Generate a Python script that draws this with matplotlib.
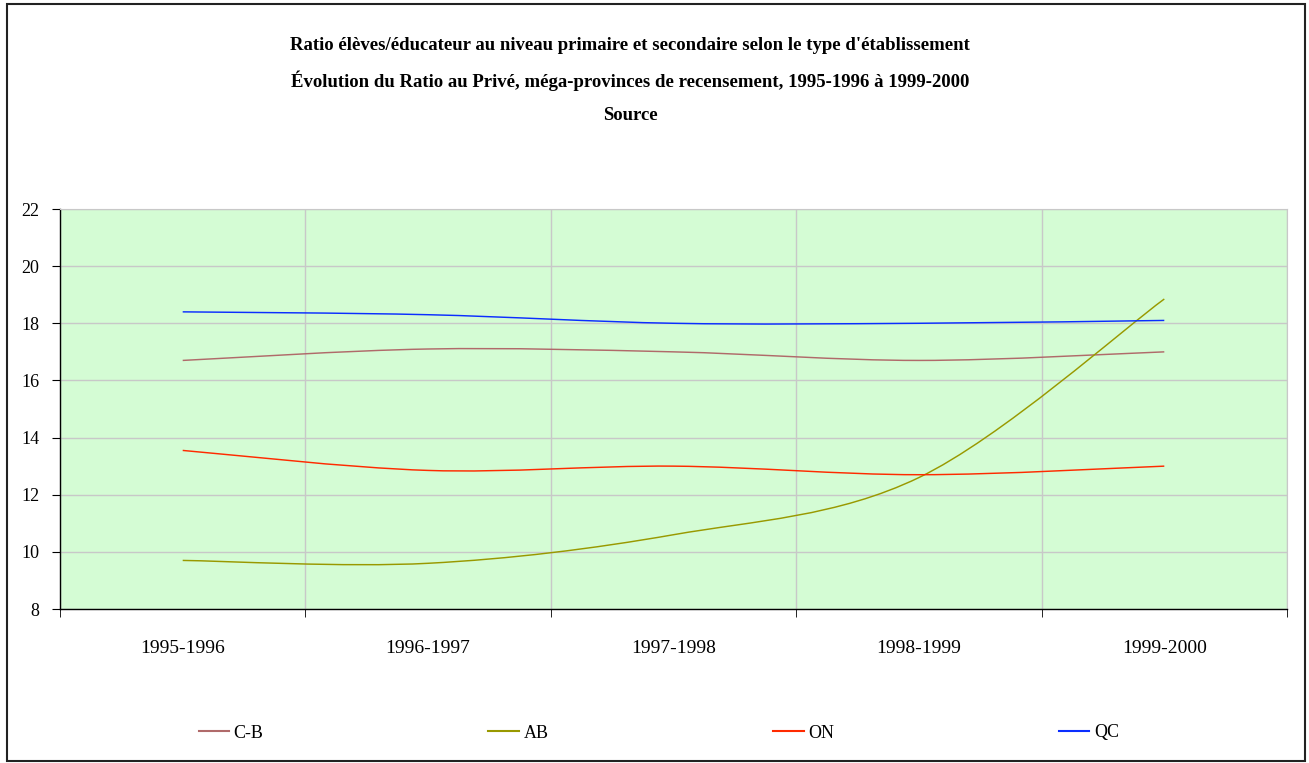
import matplotlib
matplotlib.use("Agg")
import matplotlib.pyplot as plt
import numpy as np
from matplotlib.path import Path
from matplotlib.patches import PathPatch, Rectangle
from matplotlib.lines import Line2D

# ---- data ----
categories = ["1995-1996", "1996-1997", "1997-1998", "1998-1999", "1999-2000"]
series_names = ["C-B", "AB", "ON", "QC"]
cb_values = [16.7, 17.1, 17.0, 16.7, 17.0]
ab_values = [9.7, 9.6, 10.6, 12.6, 18.85]
on_values = [13.55, 12.85, 13.0, 12.7, 13.0]
qc_values = [18.4, 18.3, 18.0, 18.0, 18.1]
series_colors = ["#B06A6A", "#999900", "#FF2A00", "#0A2EFF"]
title_lines = [
    "Ratio élèves/éducateur au niveau primaire et secondaire selon le type d'établissement",
    "Évolution du Ratio au Privé, méga-provinces de recensement, 1995-1996 à 1999-2000",
    "Source",
]
y_ticks = [8, 10, 12, 14, 16, 18, 20, 22]

plt.rcParams['font.family'] = ['Liberation Serif', 'DejaVu Serif']

W, H = 1309, 763
fig = plt.figure(figsize=(W / 100, H / 100), dpi=100)
ax = fig.add_axes([60 / W, 1 - 609 / H, (1287 - 60) / W, (609 - 209) / H])
ax.set_facecolor("#D4FCD4")


def smooth_path(xs, ys):
    xs = np.asarray(xs, float)
    ys = np.asarray(ys, float)
    n = len(xs)
    verts = [(xs[0], ys[0])]
    codes = [Path.MOVETO]
    for i in range(n - 1):
        im1 = max(i - 1, 0)
        ip2 = min(i + 2, n - 1)
        c1 = (xs[i] + (xs[i + 1] - xs[im1]) / 6, ys[i] + (ys[i + 1] - ys[im1]) / 6)
        c2 = (xs[i + 1] - (xs[ip2] - xs[i]) / 6, ys[i + 1] - (ys[ip2] - ys[i]) / 6)
        verts += [c1, c2, (xs[i + 1], ys[i + 1])]
        codes += [Path.CURVE4, Path.CURVE4, Path.CURVE4]
    return Path(verts, codes)


x = np.arange(len(categories))
all_values = [cb_values, ab_values, on_values, qc_values]
handles = []
for name, vals, col in zip(series_names, all_values, series_colors):
    p = smooth_path(x, vals)
    ax.add_patch(PathPatch(p, fill=False, edgecolor=col, lw=1.05, zorder=3))
    handles.append(Line2D([], [], color=col, lw=1.5, label=name))

ax.set_xlim(-0.5, len(categories) - 0.5)
ax.set_ylim(8, 22)
ax.set_yticks(y_ticks)
ax.set_xticks(x)
ax.set_xticklabels(categories, fontsize=14)
ax.set_xticks(np.arange(-0.5, len(categories), 1.0), minor=True)
ax.tick_params(axis='x', which='major', length=0, pad=22)
ax.tick_params(axis='x', which='minor', length=6, direction='out', color='black')
ax.tick_params(axis='y', which='major', length=6, direction='out', pad=9, labelsize=13)

ax.grid(True, which='major', axis='y', color="#C8C8C8", lw=1)
ax.grid(True, which='minor', axis='x', color="#C8C8C8", lw=1)
ax.set_axisbelow(True)
for s in ["top", "right"]:
    ax.spines[s].set_color("#C8C8C8")
for s in ["left", "bottom"]:
    ax.spines[s].set_color("black")
    ax.spines[s].set_linewidth(1.0)

title_y = [45, 81, 116]
for t, yy in zip(title_lines, title_y):
    fig.text(630 / W, 1 - yy / H, t, ha='center', va='center',
             fontsize=13.5, fontweight='bold')

fig.legend(handles=handles, loc='center', bbox_to_anchor=(659 / W, 1 - 733 / H),
           ncol=4, frameon=False, fontsize=13, handlelength=1.67,
           handletextpad=0.28, columnspacing=12.45)

fig.add_artist(Rectangle((7 / W, 2 / H), (1305 - 7) / W, (759 - 2) / H,
                         transform=fig.transFigure, fill=False,
                         edgecolor="#222222", lw=1.5))

fig.savefig("out.png", dpi=100)
